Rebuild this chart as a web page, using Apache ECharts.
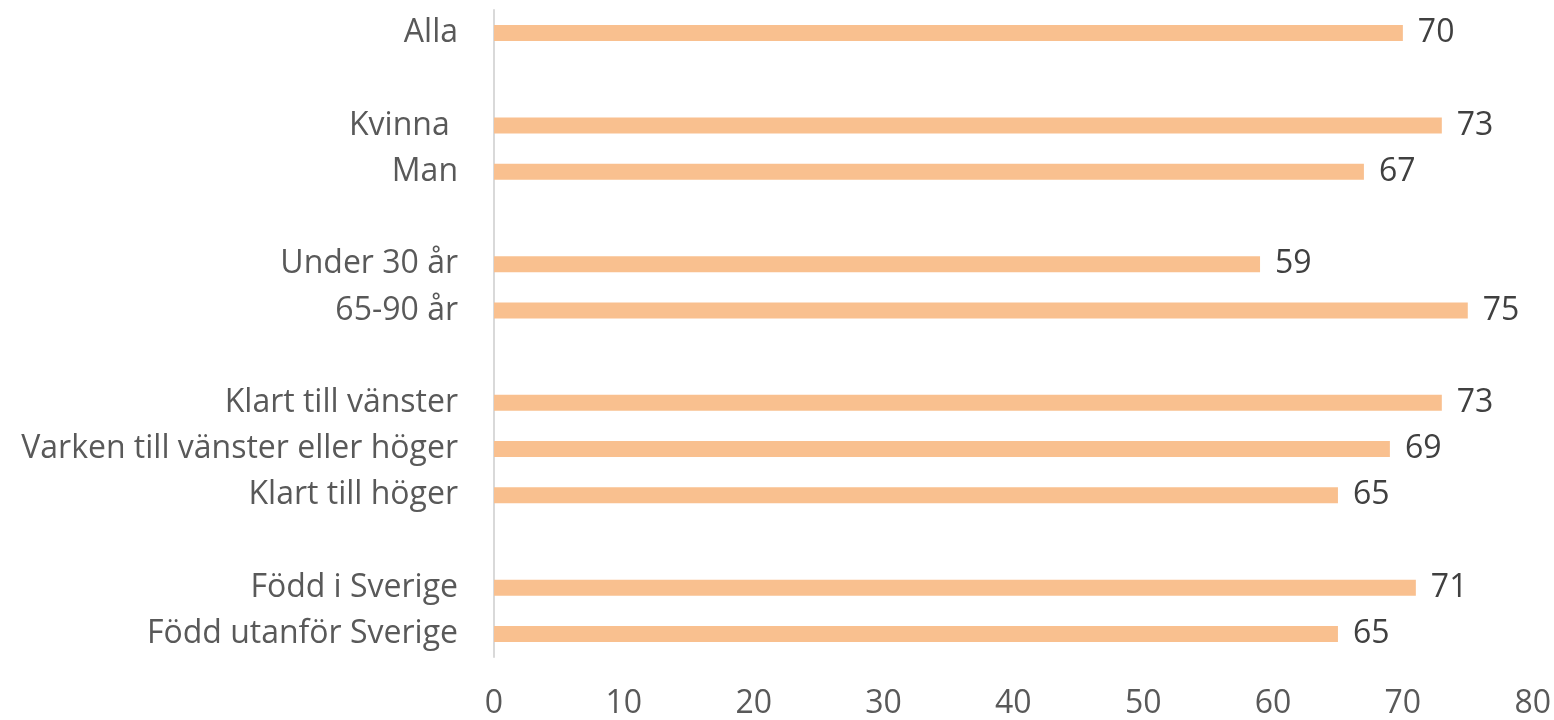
<!DOCTYPE html>
<html>
<head>
<meta charset="utf-8">
<script src="https://cdn.jsdelivr.net/npm/echarts@6/dist/echarts.min.js"></script>
<style>
  html, body { margin: 0; padding: 0; background: #fff; }
  #chart { width: 1554px; height: 720px; }
</style>
</head>
<body>
<div id="chart"></div>
<script>
// categories, top to bottom ('' = empty spacer row)
var categories = [
  "Alla", "",
  "Kvinna ", "Man", "",
  "Under 30 år", "65-90 år", "",
  "Klart till vänster", "Varken till vänster eller höger", "Klart till höger", "",
  "Född i Sverige", "Född utanför Sverige"
];
var values = [70, null, 73, 67, null, 59, 75, null, 73, 69, 65, null, 71, 65];
var xTicks = [0, 10, 20, 30, 40, 50, 60, 70, 80];

var chart = echarts.init(document.getElementById("chart"));
chart.setOption({
  animation: false,
  textStyle: { fontFamily: "Open Sans" },
  grid: { left: 494, right: 21, top: 10, bottom: 63, containLabel: false },
  xAxis: {
    type: "value",
    min: xTicks[0],
    max: xTicks[xTicks.length - 1],
    interval: 10,
    axisLine: { show: false },
    axisTick: { show: false },
    splitLine: { show: false },
    axisLabel: { color: "#595959", fontSize: 32, margin: 31 }
  },
  yAxis: {
    type: "category",
    inverse: true,
    data: categories,
    axisLine: { show: true, lineStyle: { color: "#d9d9d9", width: 2 } },
    axisTick: { show: false },
    axisLabel: { color: "#595959", fontSize: 32, margin: 36, padding: [4, 0, 0, 0] }
  },
  series: [
    {
      type: "bar",
      data: values,
      barWidth: 16,
      itemStyle: { color: "#f9c08f" },
      label: {
        show: true,
        position: "right",
        distance: 15,
        color: "#404040",
        fontSize: 32,
        padding: [5, 0, 0, 0]
      }
    }
  ]
});
</script>
</body>
</html>
